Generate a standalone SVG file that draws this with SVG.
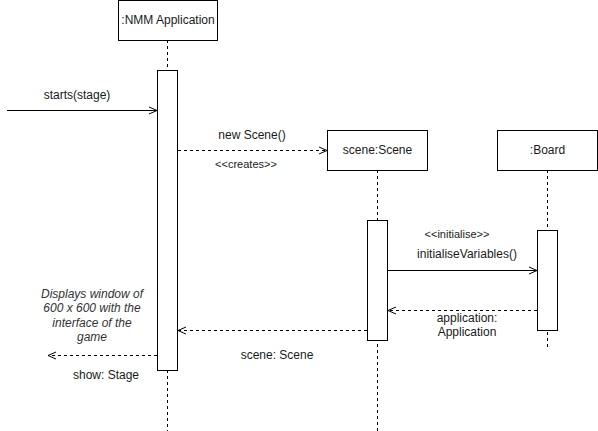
<svg xmlns="http://www.w3.org/2000/svg" width="598" height="431" viewBox="0 0 598 431">
<defs>
<style>
.box{fill:#fff;stroke:#000;stroke-width:1}
.life{stroke:#000;stroke-width:1;stroke-dasharray:3 3;fill:none}
.msg{stroke:#000;stroke-width:1;fill:none}
.dash{stroke-dasharray:3 3}
text{font-family:"Liberation Sans",Arial,sans-serif;font-size:12px;fill:#1a1a1a;text-anchor:middle}
.lbl{font-size:12px}
.small{font-size:11px}
.it{font-style:italic;font-size:12px;fill:#333}
</style>
<marker id="open" viewBox="0 0 10 10" refX="9" refY="5" markerWidth="10" markerHeight="10" markerUnits="userSpaceOnUse" orient="auto">
<path d="M1,1.5 L9,5 L1,8.5" fill="none" stroke="#000" stroke-width="1"/>
</marker>
</defs>
<g id="connectors">
<line class="life" x1="167.5" y1="40" x2="167.5" y2="431"/>
<line class="life" x1="377.5" y1="170" x2="377.5" y2="431"/>
<line class="life" x1="547.5" y1="170" x2="547.5" y2="347"/>
<line class="msg" x1="7" y1="110.5" x2="157" y2="110.5" marker-end="url(#open)"/>
<line class="msg dash" x1="178" y1="150.5" x2="327" y2="150.5" marker-end="url(#open)"/>
<line class="msg" x1="388" y1="270.5" x2="537" y2="270.5" marker-end="url(#open)"/>
<line class="msg dash" x1="537" y1="310.5" x2="388" y2="310.5" marker-end="url(#open)"/>
<line class="msg dash" x1="367" y1="330.5" x2="178" y2="330.5" marker-end="url(#open)"/>
<line class="msg dash" x1="157" y1="355.5" x2="48" y2="355.5" marker-end="url(#open)"/>
<text x="77" y="99">starts(stage)</text>
<text x="252" y="139">new Scene()</text>
<text class="small" x="246" y="168">&lt;&lt;creates&gt;&gt;</text>
<text class="small" x="457" y="238">&lt;&lt;initialise&gt;&gt;</text>
<text x="467" y="258">initialiseVariables()</text>
<text x="467" y="322">application:</text>
<text x="467" y="336">Application</text>
<text x="277" y="359">scene: Scene</text>
<text x="106" y="379">show: Stage</text>
</g>
<g id="nmm">
<rect class="box" x="118.5" y="0.5" width="99" height="40"/>
<text class="lbl" x="168" y="24">:NMM Application</text>
<rect class="box" x="157.5" y="70.5" width="20" height="300"/>
</g>
<g id="scene">
<rect class="box" x="327.5" y="130.5" width="100" height="40"/>
<text class="lbl" x="377.5" y="154">scene:Scene</text>
<rect class="box" x="367.5" y="220.5" width="20" height="120"/>
</g>
<g id="board">
<rect class="box" x="497.5" y="130.5" width="100" height="40"/>
<text class="lbl" x="547.5" y="154">:Board</text>
<rect class="box" x="537.5" y="230.5" width="20" height="100"/>
</g>
<g id="note">
<text class="it" x="92" y="298">Displays window of</text>
<text class="it" x="92" y="312">600 x 600 with the</text>
<text class="it" x="92" y="327">interface of the</text>
<text class="it" x="92" y="341">game</text>
</g>
</svg>
